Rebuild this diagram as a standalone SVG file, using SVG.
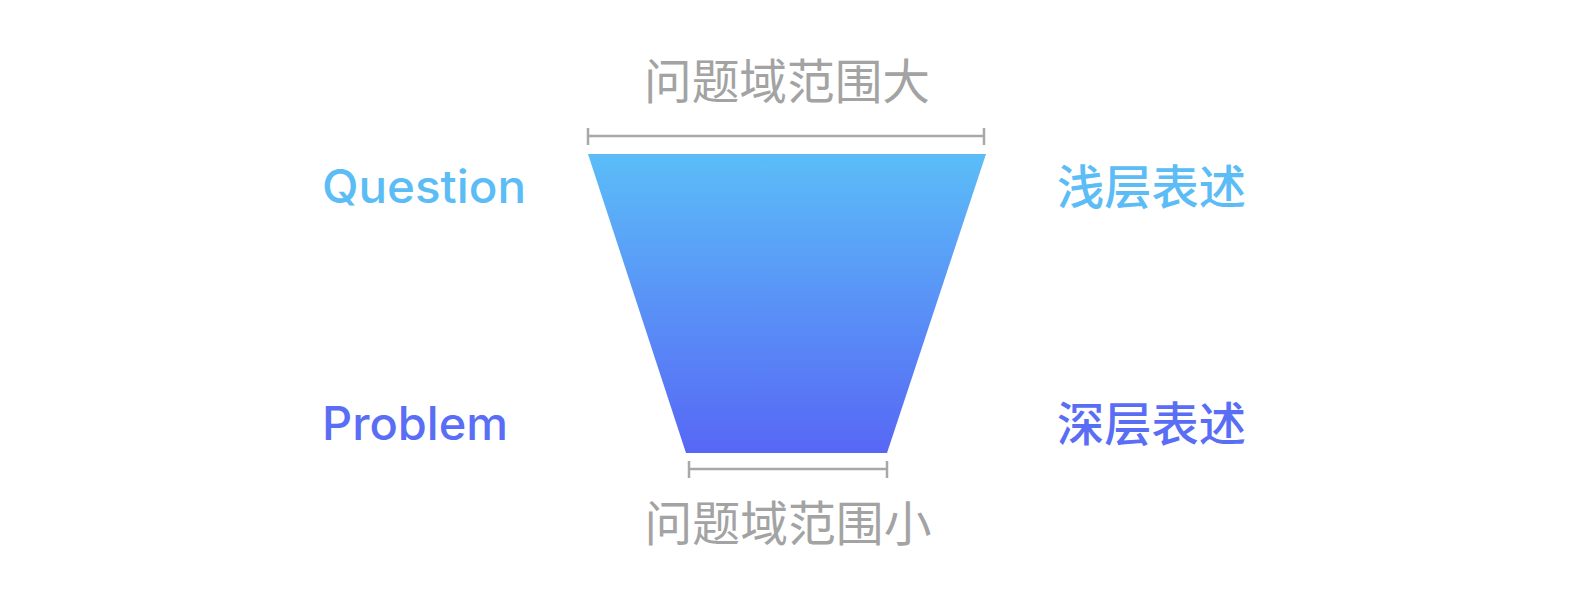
<svg xmlns="http://www.w3.org/2000/svg" width="1570" height="600" viewBox="0 0 1570 600">
<style>
.gray{fill:#a3a3a3;font-family:"Noto Sans CJK SC",sans-serif;font-size:48px;font-weight:400}
.lat{font-family:Inter,"Liberation Sans",sans-serif;font-size:46px;font-weight:500}
.cjk{font-family:"Noto Sans CJK SC",sans-serif;font-size:47px;font-weight:500}
.light{fill:#5bbcf6}
.deep{fill:#5a6ef5}
.brk{stroke:#a8a8a8;stroke-width:2.5;fill:none}
</style>
<defs>
<linearGradient id="g" x1="0" y1="0" x2="0" y2="1">
<stop offset="0" stop-color="#5bbdf8"/>
<stop offset="1" stop-color="#5767f5"/>
</linearGradient>
</defs>
<rect width="1570" height="600" fill="#ffffff"/>
<g id="funnel">
<polygon points="588,154 986,154 887,453 686,453" fill="url(#g)"/>
</g>
<g id="connectors">
<path class="brk" d="M588,136 H984 M588,128 V145 M984,128 V145"/>
<path class="brk" d="M689,469 H887 M689,461 V478 M887,461 V478"/>
</g>
<g id="top-label"><text class="gray" x="787" y="99" text-anchor="middle" textLength="286" lengthAdjust="spacingAndGlyphs">问题域范围大</text></g>
<g id="bottom-label"><text class="gray" x="788" y="541" text-anchor="middle" textLength="287" lengthAdjust="spacingAndGlyphs">问题域范围小</text></g>
<g id="question"><text class="lat light" x="322" y="203" textLength="204" lengthAdjust="spacingAndGlyphs">Question</text></g>
<g id="problem"><text class="lat deep" x="322" y="440" textLength="186" lengthAdjust="spacingAndGlyphs">Problem</text></g>
<g id="shallow"><text class="cjk light" x="1057" y="204" textLength="189" lengthAdjust="spacingAndGlyphs">浅层表述</text></g>
<g id="deep"><text class="cjk deep" x="1057" y="441" textLength="189" lengthAdjust="spacingAndGlyphs">深层表述</text></g>
</svg>
